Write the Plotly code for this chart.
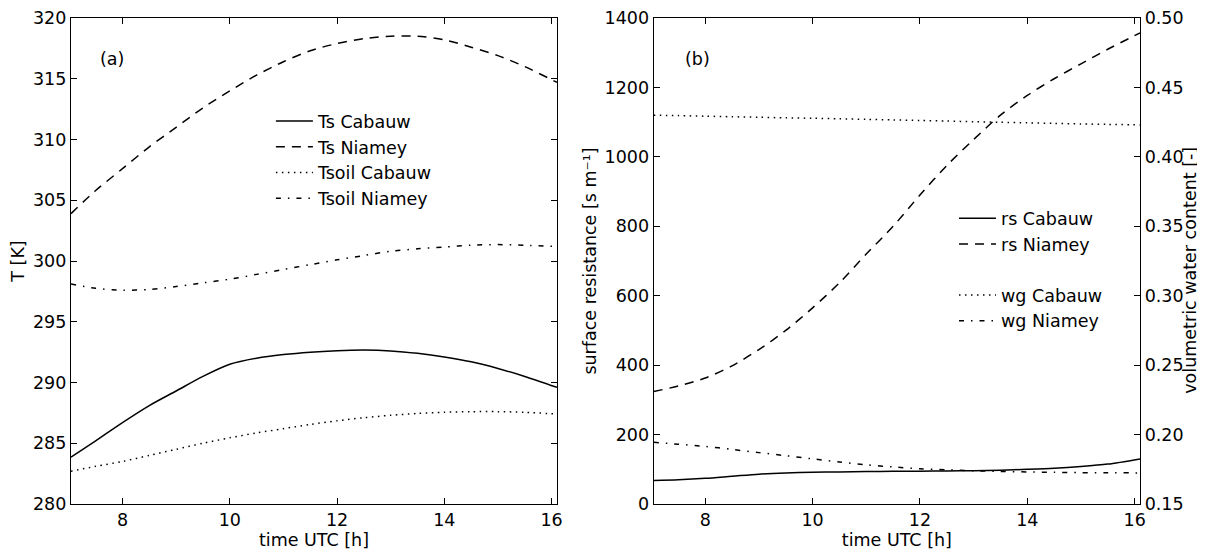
import plotly.graph_objects as go

# ---------------- data ----------------
time_h = [7.04, 7.5, 8, 8.5, 9, 9.5, 10, 10.5, 11, 11.5, 12, 12.5, 13, 13.5, 14, 14.5, 15, 15.5, 16.1]

ts_cabauw = [283.85, 285.2, 286.7, 288.1, 289.3, 290.5, 291.5, 292.0, 292.3, 292.5, 292.62, 292.67,
             292.6, 292.4, 292.1, 291.7, 291.15, 290.5, 289.6]
ts_niamey = [303.9, 305.8, 307.6, 309.4, 311.0, 312.6, 314.0, 315.3, 316.4, 317.3, 317.9, 318.3,
             318.5, 318.5, 318.2, 317.6, 316.9, 316.0, 314.7]
tsoil_cabauw = [282.7, 283.1, 283.5, 284.0, 284.5, 285.0, 285.45, 285.85, 286.2, 286.55, 286.85, 287.1,
                287.3, 287.45, 287.55, 287.6, 287.6, 287.55, 287.4]
tsoil_niamey = [298.1, 297.75, 297.6, 297.65, 297.9, 298.2, 298.5, 298.9, 299.3, 299.7, 300.1, 300.45,
                300.8, 301.0, 301.15, 301.3, 301.35, 301.3, 301.2]

rs_cabauw = [68, 70, 74, 80, 86, 89.5, 91.5, 92.5, 93.5, 94, 94.5, 95, 96, 97.5, 100, 103, 108, 115, 130]
rs_niamey = [324, 340, 363, 398, 445, 500, 565, 637, 720, 800, 890, 975, 1050, 1120, 1177, 1225, 1268,
             1310, 1357]
wg_cabauw = [0.4300, 0.4297, 0.4293, 0.4289, 0.4285, 0.4281, 0.4278, 0.4274, 0.4270, 0.4266, 0.4262,
             0.4258, 0.4253, 0.4249, 0.4245, 0.4241, 0.4237, 0.4234, 0.4230]
wg_niamey = [0.1945, 0.1930, 0.1915, 0.1893, 0.1870, 0.1848, 0.1825, 0.1803, 0.1782, 0.1767, 0.1754,
             0.1746, 0.1739, 0.1735, 0.1731, 0.1728, 0.1726, 0.1725, 0.1724]

x_ticks = [8, 10, 12, 14, 16]

# ---------------- styles ----------------
FONT = "DejaVu Sans"
FS = 17.5
LW = 1.5
DASH = "9px,7px"
DOT = "1.5px,4.5px"
DASHDOT = "5px,7px,1.5px,7px"

fig = go.Figure()

def add(x, y, name, dash, xa, ya, legend, group):
    fig.add_trace(go.Scatter(
        x=x, y=y, name=name, mode="lines",
        line=dict(color="black", width=LW, dash=dash, shape="spline", smoothing=0.8),
        xaxis=xa, yaxis=ya, legend=legend, legendgroup=group, hoverinfo="skip"))

add(time_h, ts_cabauw, "Ts Cabauw", "solid", "x", "y", "legend", "a1")
add(time_h, ts_niamey, "Ts Niamey", DASH, "x", "y", "legend", "a2")
add(time_h, tsoil_cabauw, "Tsoil Cabauw", DOT, "x", "y", "legend", "a3")
add(time_h, tsoil_niamey, "Tsoil Niamey", DASHDOT, "x", "y", "legend", "a4")

add(time_h, rs_cabauw, "rs Cabauw", "solid", "x2", "y2", "legend2", "b1")
add(time_h, rs_niamey, "rs Niamey", DASH, "x2", "y2", "legend2", "b2")
add(time_h, wg_cabauw, "wg Cabauw", DOT, "x2", "y3", "legend3", "c1")
add(time_h, wg_niamey, "wg Niamey", DASHDOT, "x2", "y3", "legend3", "c2")

tfont = dict(family=FONT, size=FS, color="black")

axis_common = dict(
    showgrid=False, zeroline=False, showline=True, linecolor="black", linewidth=1.3,
    ticks="inside", ticklen=6, tickwidth=1, tickcolor="black",
    tickfont=tfont, automargin=False,
)

xa = dict(axis_common, range=[7.04, 16.1], tickvals=x_ticks, mirror="ticks",
          title=dict(text="time UTC [h]", font=tfont, standoff=1))

legend_common = dict(bgcolor="rgba(0,0,0,0)", borderwidth=0, xanchor="left", yanchor="top",
                     font=tfont, tracegroupgap=0, itemwidth=37,
                     traceorder="grouped")

# page body has an 8px margin, so the figure is 8px smaller than the window
fig.update_layout(
    width=1197, height=542,
    margin=dict(l=63, r=65, t=10, b=46, autoexpand=False),
    paper_bgcolor="white", plot_bgcolor="white",
    font=tfont,
    xaxis=dict(xa, domain=[0, 0.4546], anchor="y"),
    yaxis=dict(axis_common, range=[280, 320], dtick=5, mirror="ticks", anchor="x",
               title=dict(text="T [K]", font=tfont, standoff=6)),
    xaxis2=dict(xa, domain=[0.5451, 1], anchor="y2"),
    yaxis2=dict(axis_common, range=[0, 1400], dtick=200, anchor="x2",
                title=dict(text="surface resistance [s m⁻¹]", font=tfont, standoff=3)),
    yaxis3=dict(axis_common, range=[0.15, 0.50], dtick=0.05, tickformat=".2f", anchor="x2",
                overlaying="y2", side="right"),
    legend=dict(legend_common, x=0.187, y=0.825),
    legend2=dict(legend_common, x=0.826, y=0.625),
    legend3=dict(legend_common, x=0.826, y=0.467),
    showlegend=True,
    annotations=[
        dict(text="(a)", xref="x domain", yref="y domain", x=0.085, y=0.915, showarrow=False,
             xanchor="center", yanchor="middle", font=tfont),
        dict(text="(b)", xref="x2 domain", yref="y2 domain", x=0.09, y=0.915, showarrow=False,
             xanchor="center", yanchor="middle", font=tfont),
        dict(text="volumetric water content [-]", xref="paper", yref="paper", x=1.0468, y=0.48,
             textangle=-90, showarrow=False, xanchor="center", yanchor="middle", font=tfont),
    ],
)

fig.write_html("out.html")
